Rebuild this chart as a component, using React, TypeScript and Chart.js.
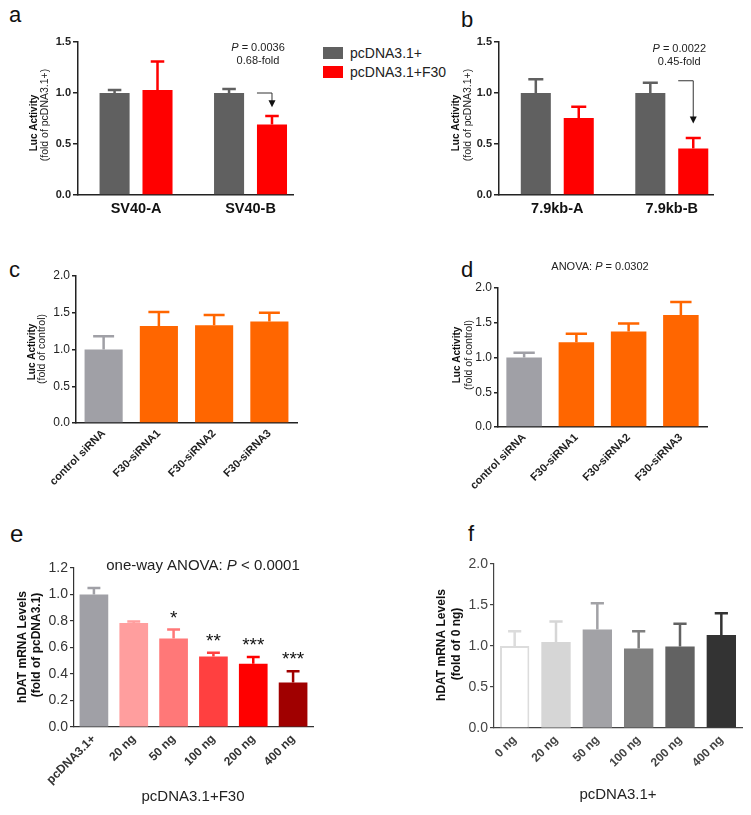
import React, { useEffect, useRef } from "react";
import { Chart, registerables } from "chart.js";

Chart.register(...registerables);

const FONT = "'Liberation Sans', Arial, Helvetica, sans-serif";

// ---------------- data ----------------
// Panel a
const aCategories = ["SV40-A", "SV40-B"];
const aControl = [1.0, 1.0];
const aControlErr = [1.03, 1.04];
const aF30 = [1.03, 0.69];
const aF30Err = [1.31, 0.775];
const aPValue = "0.0036";
const aFold = "0.68-fold";

// Panel b
const bCategories = ["7.9kb-A", "7.9kb-B"];
const bControl = [1.0, 1.0];
const bControlErr = [1.135, 1.1];
const bF30 = [0.755, 0.455];
const bF30Err = [0.865, 0.56];
const bPValue = "0.0022";
const bFold = "0.45-fold";

const legendLabels = ["pcDNA3.1+", "pcDNA3.1+F30"];

// Panels c and d
const cdCategories = ["control siRNA", "F30-siRNA1", "F30-siRNA2", "F30-siRNA3"];
const cValues = [1.0, 1.32, 1.33, 1.38];
const cErr = [1.18, 1.51, 1.47, 1.5];
const dValues = [1.0, 1.22, 1.375, 1.61];
const dErr = [1.07, 1.34, 1.49, 1.8];
const dPValue = "0.0302";

// Panel e
const eCategories = ["pcDNA3.1+", "20 ng", "50 ng", "100 ng", "200 ng", "400 ng"];
const eValues = [1.0, 0.785, 0.667, 0.533, 0.478, 0.335];
const eErr = [1.05, 0.797, 0.735, 0.56, 0.528, 0.42];
const eStars = ["", "", "*", "**", "***", "***"];
const ePValue = "0.0001";
const eGroupTitle = "pcDNA3.1+F30";

// Panel f
const fCategories = ["0 ng", "20 ng", "50 ng", "100 ng", "200 ng", "400 ng"];
const fValues = [1.0, 1.05, 1.2, 0.97, 0.995, 1.135];
const fErr = [1.18, 1.3, 1.52, 1.18, 1.27, 1.4];
const fGroupTitle = "pcDNA3.1+";

// ---------------- helpers ----------------
type Box = { left: number; top: number; width: number; height: number };
type Area = { left: number; top: number; right: number; bottom: number };

const cssFont = (size: number, weight = "normal", style = "normal") =>
  `${style} ${weight} ${size}px ${FONT}`;

function drawRich(ctx: any, parts: any[], cx: number, cy: number, size: number, weight = "normal", color = "#222") {
  ctx.save();
  ctx.fillStyle = color;
  ctx.textBaseline = "middle";
  ctx.textAlign = "left";
  const fonts = parts.map((p) => cssFont(size, weight, p.italic ? "italic" : "normal"));
  const ws = parts.map((p, i) => {
    ctx.font = fonts[i];
    return ctx.measureText(p.t).width;
  });
  let x = cx - ws.reduce((a: number, b: number) => a + b, 0) / 2;
  parts.forEach((p, i) => {
    ctx.font = fonts[i];
    ctx.fillText(p.t, x, cy);
    x += ws[i];
  });
  ctx.restore();
}

function makeExtras(spec: any, box: Box) {
  const ox = box.left;
  const oy = box.top;
  return {
    id: "extras",
    afterDatasetsDraw(chart: any) {
      const ctx = chart.ctx;
      const ys = chart.scales.y;
      chart.data.datasets.forEach((ds: any, di: number) => {
        if (!ds.errTop) return;
        const meta = chart.getDatasetMeta(di);
        meta.data.forEach((el: any, i: number) => {
          const col = Array.isArray(ds.errColor) ? ds.errColor[i] : ds.errColor;
          const yTop = ys.getPixelForValue(ds.errTop[i]);
          const half = (el.width * (spec.cap ?? 0.5)) / 2;
          const lw = spec.errWidth ?? 2;
          ctx.save();
          ctx.strokeStyle = col;
          ctx.lineWidth = lw;
          ctx.beginPath();
          ctx.moveTo(el.x, el.y);
          ctx.lineTo(el.x, yTop - lw / 2);
          ctx.moveTo(el.x - half, yTop);
          ctx.lineTo(el.x + half, yTop);
          ctx.stroke();
          ctx.restore();
        });
      });
    },
    afterDraw(chart: any) {
      const ctx = chart.ctx;
      const ys = chart.scales.y;
      const barEl = (b: number[]) => chart.getDatasetMeta(b[0]).data[b[1]];
      (spec.yTitles || []).forEach((t: any) => {
        ctx.save();
        ctx.translate(t.x - ox, t.y - oy);
        ctx.rotate(-Math.PI / 2);
        ctx.font = t.font;
        ctx.fillStyle = t.color || "#111";
        ctx.textAlign = "center";
        ctx.textBaseline = "middle";
        ctx.fillText(t.text, 0, 0);
        ctx.restore();
      });
      (spec.texts || []).forEach((t: any) => {
        let x = t.x !== undefined ? t.x - ox : 0;
        if (t.bar) x = barEl(t.bar).x + (t.dx || 0);
        const y = t.val !== undefined ? ys.getPixelForValue(t.val) : t.y - oy;
        drawRich(ctx, t.parts, x, y, t.size, t.weight, t.color);
      });
      (spec.arrows || []).forEach((a: any) => {
        const el = barEl(a.bar);
        const x0 = el.x - el.width / 2;
        const x1 = el.x;
        const y0 = ys.getPixelForValue(a.from);
        const y1 = ys.getPixelForValue(a.to);
        ctx.save();
        ctx.strokeStyle = "#333";
        ctx.fillStyle = "#111";
        ctx.lineWidth = 1;
        ctx.beginPath();
        ctx.moveTo(x0, y0);
        ctx.lineTo(x1, y0);
        ctx.lineTo(x1, y1 - 6);
        ctx.stroke();
        ctx.beginPath();
        ctx.moveTo(x1 - 3.5, y1 - 7);
        ctx.lineTo(x1 + 3.5, y1 - 7);
        ctx.lineTo(x1, y1);
        ctx.closePath();
        ctx.fill();
        ctx.restore();
      });
      if (spec.stars) {
        const ds = chart.data.datasets[0];
        const meta = chart.getDatasetMeta(0);
        ctx.save();
        ctx.font = cssFont(spec.stars.size);
        ctx.fillStyle = "#111";
        ctx.textAlign = "center";
        ctx.textBaseline = "alphabetic";
        spec.stars.labels.forEach((s: string, i: number) => {
          if (!s) return;
          const el = meta.data[i];
          const y = ys.getPixelForValue(ds.errTop[i]) + spec.stars.dy;
          ctx.fillText(s, el.x, y);
        });
        ctx.restore();
      }
    },
  };
}

function ChartBox({ box, area, build, extras }: { box: Box; area: Area; build: () => any; extras: any }) {
  const ref = useRef<HTMLCanvasElement>(null);
  useEffect(() => {
    const cfg = build();
    cfg.options = cfg.options || {};
    cfg.options.responsive = false;
    cfg.options.animation = false;
    cfg.options.devicePixelRatio = 1;
    cfg.options.layout = {
      padding: {
        top: area.top - box.top,
        right: box.left + box.width - area.right,
        left: 0,
        bottom: 0,
      },
    };
    cfg.options.plugins = {
      ...(cfg.options.plugins || {}),
      legend: { display: false },
      tooltip: { enabled: false },
      title: { display: false },
    };
    cfg.options.scales.x.afterFit = (s: any) => {
      s.height = box.top + box.height - area.bottom;
    };
    cfg.options.scales.y.afterFit = (s: any) => {
      s.width = area.left - box.left;
    };
    cfg.plugins = [makeExtras(extras, box)];
    const chart = new Chart(ref.current as HTMLCanvasElement, cfg);
    return () => chart.destroy();
  }, []);
  return (
    <canvas
      ref={ref}
      width={box.width}
      height={box.height}
      style={{ position: "absolute", left: box.left, top: box.top, width: box.width, height: box.height }}
    />
  );
}

const yAxis = (max: number, step: number, font: any, color: string, lw: number, tickLen = 5) => ({
  min: 0,
  max,
  ticks: {
    stepSize: step,
    callback: (v: number) => Number(v).toFixed(1),
    font,
    color,
    padding: 2,
  },
  grid: { drawOnChartArea: false, drawTicks: true, tickLength: tickLen, color, lineWidth: lw },
  border: { display: true, color, width: lw },
});

const catX = (font: any, color: string, lw: number, padding: number, rotation: number) => ({
  type: "category",
  offset: true,
  ticks: { font, color, padding, autoSkip: false, minRotation: rotation, maxRotation: rotation },
  grid: { display: false, drawTicks: false },
  border: { display: true, color, width: lw },
});

const GRAY_AB = "#606060";
const RED = "#ff0000";
const ORANGE = "#ff6600";
const GRAY_LIGHT = "#a0a0a6";

function pairedConfig(cats: string[], ctrl: number[], ctrlErr: number[], f30: number[], f30Err: number[], xmin: number, xmax: number) {
  return {
    type: "bar",
    data: {
      datasets: [
        {
          label: legendLabels[0],
          data: ctrl.map((y, i) => ({ x: i, y })),
          backgroundColor: GRAY_AB,
          errTop: ctrlErr,
          errColor: GRAY_AB,
          categoryPercentage: 0.75,
          barPercentage: 0.7,
        },
        {
          label: legendLabels[1],
          data: f30.map((y, i) => ({ x: i, y })),
          backgroundColor: RED,
          errTop: f30Err,
          errColor: RED,
          categoryPercentage: 0.75,
          barPercentage: 0.7,
        },
      ],
    },
    options: {
      scales: {
        x: {
          type: "linear",
          min: xmin,
          max: xmax,
          offset: false,
          afterBuildTicks: (s: any) => {
            s.ticks = cats.map((_, i) => ({ value: i }));
          },
          ticks: {
            callback: (v: number) => cats[v] ?? "",
            font: { family: FONT, size: 14.5, weight: "bold" },
            color: "#111",
            padding: 5,
            autoSkip: false,
            maxRotation: 0,
            minRotation: 0,
          },
          grid: { display: false, drawTicks: false },
          border: { display: true, color: "#222", width: 1.5 },
        },
        y: yAxis(1.5, 0.5, { family: FONT, size: 11, weight: "bold" }, "#222", 1.5),
      },
    },
  };
}

function singleConfig(cats: string[], values: number[], errs: number[], colors: string[], errColors: string[], opts: any) {
  return {
    type: "bar",
    data: {
      labels: cats,
      datasets: [
        {
          data: values,
          backgroundColor: colors,
          borderColor: opts.borderColor || colors,
          borderWidth: opts.borderWidth || 0,
          errTop: errs,
          errColor: errColors,
          categoryPercentage: 1,
          barPercentage: opts.barPct,
        },
      ],
    },
    options: {
      scales: {
        x: catX(opts.xFont, opts.axisColor, opts.lw, opts.xPad, 45),
        y: yAxis(opts.ymax, opts.ystep, opts.yFont, opts.axisColor, opts.lw, opts.tickLen),
      },
    },
  };
}

const italicP = (before: string, after: string) => [{ t: before }, { t: "P", italic: true }, { t: after }];

const letterStyle = (left: number, top: number, size = 22): React.CSSProperties => ({
  position: "absolute",
  left,
  top,
  fontFamily: FONT,
  fontSize: size,
  lineHeight: `${size}px`,
  color: "#111",
});

export default function App() {
  const cColors = [GRAY_LIGHT, ORANGE, ORANGE, ORANGE];
  const eColors = ["#a0a0a6", "#ff9e9e", "#ff7878", "#ff4040", "#ff0000", "#a00000"];
  const fColors = ["#ffffff", "#d6d6d6", "#a2a2a6", "#7f7f7f", "#626262", "#333333"];
  const fErrColors = ["#dcdcdc", "#d6d6d6", "#a2a2a6", "#7f7f7f", "#626262", "#333333"];

  return (
    <div style={{ position: "absolute", left: 0, top: 0, width: 751, height: 815, background: "#fff" }}>
      {/* panel letters */}
      <div style={letterStyle(9, 4)}>a</div>
      <div style={letterStyle(461, 9)}>b</div>
      <div style={letterStyle(9, 259)}>c</div>
      <div style={letterStyle(461, 259)}>d</div>
      <div style={letterStyle(10, 522, 24)}>e</div>
      <div style={letterStyle(468, 523)}>f</div>

      {/* legend */}
      {legendLabels.map((l, i) => (
        <div key={l} style={{ position: "absolute", left: 323, top: 47 + i * 19, height: 12, display: "flex", alignItems: "center" }}>
          <div style={{ width: 20, height: 12, background: i === 0 ? GRAY_AB : RED }} />
          <div style={{ marginLeft: 7, fontFamily: FONT, fontSize: 14, color: "#222", whiteSpace: "nowrap", lineHeight: "12px" }}>{l}</div>
        </div>
      ))}

      {/* a */}
      <ChartBox
        box={{ left: 0, top: 25, width: 330, height: 200 }}
        area={{ left: 78, top: 42, right: 293, bottom: 195 }}
        build={() => pairedConfig(aCategories, aControl, aControlErr, aF30, aF30Err, -0.507, 1.371)}
        extras={{
          cap: 0.45,
          errWidth: 2.5,
          yTitles: [
            { text: "Luc Activity", font: cssFont(10, "bold"), x: 34, y: 123 },
            { text: "(fold of pcDNA3.1+)", font: cssFont(10.5), x: 45, y: 115, color: "#222" },
          ],
          texts: [
            { parts: italicP("", " = " + aPValue), bar: [1, 1], dx: -14, val: 1.44, size: 11 },
            { parts: [{ t: aFold }], bar: [1, 1], dx: -14, val: 1.31, size: 11 },
          ],
          arrows: [{ bar: [1, 1], from: 1.0, to: 0.86 }],
        }}
      />

      {/* b */}
      <ChartBox
        box={{ left: 440, top: 25, width: 311, height: 200 }}
        area={{ left: 499, top: 42, right: 713, bottom: 195 }}
        build={() => pairedConfig(bCategories, bControl, bControlErr, bF30, bF30Err, -0.509, 1.36)}
        extras={{
          cap: 0.5,
          errWidth: 2.5,
          yTitles: [
            { text: "Luc Activity", font: cssFont(10, "bold"), x: 456, y: 123 },
            { text: "(fold of pcDNA3.1+)", font: cssFont(10.5), x: 468, y: 115, color: "#222" },
          ],
          texts: [
            { parts: italicP("", " = " + bPValue), bar: [1, 1], dx: -14, val: 1.43, size: 11 },
            { parts: [{ t: bFold }], bar: [1, 1], dx: -14, val: 1.3, size: 11 },
          ],
          arrows: [{ bar: [1, 1], from: 1.12, to: 0.7 }],
        }}
      />

      {/* c */}
      <ChartBox
        box={{ left: 0, top: 255, width: 340, height: 245 }}
        area={{ left: 76, top: 276, right: 297, bottom: 423 }}
        build={() =>
          singleConfig(cdCategories, cValues, cErr, cColors, cColors, {
            barPct: 0.69,
            xFont: { family: FONT, size: 11, weight: "bold" },
            yFont: { family: FONT, size: 12 },
            axisColor: "#222",
            lw: 1.5,
            xPad: 4,
            ymax: 2,
            ystep: 0.5,
            tickLen: 4,
          })
        }
        extras={{
          cap: 0.55,
          errWidth: 2.5,
          yTitles: [
            { text: "Luc Activity", font: cssFont(10, "bold"), x: 32, y: 352 },
            { text: "(fold of control)", font: cssFont(10.5), x: 42, y: 349, color: "#222" },
          ],
        }}
      />

      {/* d */}
      <ChartBox
        box={{ left: 420, top: 240, width: 331, height: 260 }}
        area={{ left: 498, top: 288, right: 707, bottom: 427 }}
        build={() =>
          singleConfig(cdCategories, dValues, dErr, cColors, cColors, {
            barPct: 0.68,
            xFont: { family: FONT, size: 11, weight: "bold" },
            yFont: { family: FONT, size: 12 },
            axisColor: "#222",
            lw: 1.5,
            xPad: 4,
            ymax: 2,
            ystep: 0.5,
            tickLen: 4,
          })
        }
        extras={{
          cap: 0.6,
          errWidth: 2.5,
          yTitles: [
            { text: "Luc Activity", font: cssFont(10, "bold"), x: 457, y: 355 },
            { text: "(fold of control)", font: cssFont(10.5), x: 469, y: 355, color: "#222" },
          ],
          texts: [{ parts: italicP("ANOVA: ", " = " + dPValue), x: 600, y: 267, size: 11 }],
        }}
      />

      {/* e */}
      <ChartBox
        box={{ left: 0, top: 540, width: 340, height: 275 }}
        area={{ left: 74, top: 568, right: 313, bottom: 727 }}
        build={() =>
          singleConfig(eCategories, eValues, eErr, eColors, eColors, {
            barPct: 0.72,
            xFont: { family: FONT, size: 12, weight: "bold" },
            yFont: { family: FONT, size: 14 },
            axisColor: "#333",
            lw: 1.2,
            xPad: 5,
            ymax: 1.2,
            ystep: 0.2,
            tickLen: 4,
          })
        }
        extras={{
          cap: 0.45,
          errWidth: 2.5,
          yTitles: [
            { text: "hDAT mRNA Levels", font: cssFont(12, "bold"), x: 23, y: 647 },
            { text: "(fold of pcDNA3.1)", font: cssFont(12, "bold"), x: 37, y: 645 },
          ],
          texts: [
            { parts: italicP("one-way ANOVA: ", " < " + ePValue), x: 203, y: 566, size: 15 },
            { parts: [{ t: eGroupTitle }], x: 193, y: 797, size: 15 },
          ],
          stars: { labels: eStars, size: 19, dy: -6 },
        }}
      />

      {/* f */}
      <ChartBox
        box={{ left: 420, top: 540, width: 331, height: 275 }}
        area={{ left: 494, top: 564, right: 742, bottom: 728 }}
        build={() =>
          singleConfig(fCategories, fValues, fErr, fColors, fErrColors, {
            barPct: 0.71,
            borderColor: fErrColors,
            borderWidth: [2, 0, 0, 0, 0, 0],
            xFont: { family: FONT, size: 12, weight: "bold" },
            yFont: { family: FONT, size: 14 },
            axisColor: "#444",
            lw: 1.2,
            xPad: 5,
            ymax: 2,
            ystep: 0.5,
            tickLen: 4,
          })
        }
        extras={{
          cap: 0.45,
          errWidth: 2.5,
          yTitles: [
            { text: "hDAT mRNA Levels", font: cssFont(12, "bold"), x: 442, y: 645 },
            { text: "(fold of 0 ng)", font: cssFont(12, "bold"), x: 457, y: 644 },
          ],
          texts: [{ parts: [{ t: fGroupTitle }], x: 618, y: 795, size: 15 }],
        }}
      />
    </div>
  );
}
